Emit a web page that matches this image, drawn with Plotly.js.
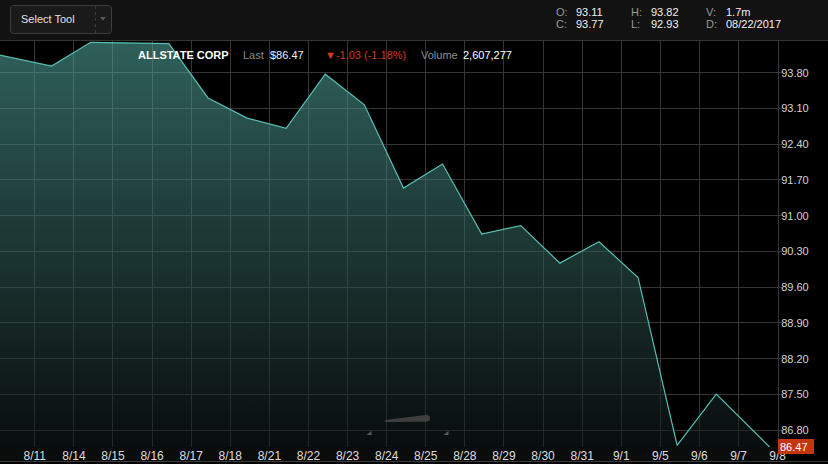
<!DOCTYPE html>
<html><head><meta charset="utf-8">
<script src="https://cdn.plot.ly/plotly-3.0.1.min.js"></script>
<style>html,body{margin:0;padding:0;background:#000;}#chart{width:828px;height:464px;}</style>
</head><body><div id="chart"></div>
<script>
// ---- data ----
const pointDates = ['8/9','8/10','8/11','8/14','8/15','8/16','8/17','8/18','8/21','8/22','8/23','8/24','8/25','8/28','8/29','8/30','8/31','9/1','9/5','9/6','9/7'];
const pointIndex = [-2,-1,0,1,2,3,4,5,6,7,8,9,10,11,12,13,14,15,16,17,18.365];
const closes = [94.25,94.09,93.93,94.395,94.38,94.37,93.305,92.91,92.71,93.77,93.17,91.54,92.01,90.64,90.805,90.07,90.49,89.79,86.50,87.505,86.47];
const tickDates = ['8/11','8/14','8/15','8/16','8/17','8/18','8/21','8/22','8/23','8/24','8/25','8/28','8/29','8/30','8/31','9/1','9/5','9/6','9/7','9/8'];
const tickIndex = [0,1,2,3,4,5,6,7,8,9,10,11,12,13,14,15,16,17,18,19];
const yTicks = [86.80,87.50,88.20,88.90,89.60,90.30,91.00,91.70,92.40,93.10,93.80];
const symbol = 'ALLSTATE CORP';
const lastPrice = 86.47;
const change = '-1.03';
const changePct = '-1.18%';
const volume = '2,607,277';
const ohlcLabels = ['O:','H:','V:','C:','L:','D:'];
const ohlcValues = ['93.11','93.82','1.7m','93.77','92.93','08/22/2017'];

// ---- layout helpers (pixel -> paper) ----
const PL = 0, PW = 778, PT = 41, PH = 406;
const px = x => (x - PL) / PW;
const py = y => (PT + PH - y) / PH;
const FONT = 'Liberation Sans, Arial, sans-serif';

function ann(text, x, y, color, size, bold) {
  return {text: bold ? '<b>' + text + '</b>' : text, xref:'paper', yref:'paper',
    x: px(x - 2), y: py(y), xanchor:'left', yanchor:'middle', showarrow:false,
    font:{family: FONT, size: size || 11, color: color}};
}

const annotations = [
  ann('Select Tool', 20.5, 19, '#e2e2e2', 11),
  ann(symbol, 138, 55, '#ffffff', 11, true),
  ann('Last', 243, 55, '#8c8c8c'),
  ann('$' + lastPrice.toFixed(2), 270, 55, '#e6efff'),
  ann('\u25BC' + change + ' (' + changePct + ')', 325, 55, '#d2391b'),
  ann('Volume', 421, 55, '#8c8c8c'),
  ann(volume, 463, 55, '#ffffff'),
];
const colX = [556, 630.5, 705.5];
const valX = [576, 651, 726];
ohlcLabels.forEach((l, i) => {
  const row = Math.floor(i / 3), col = i % 3;
  const yy = row === 0 ? 11.8 : 24;
  annotations.push(ann(l, colX[col], yy, '#9a9a9a'));
  annotations.push(ann(ohlcValues[i], valX[col], yy, '#f0f0f0'));
});
annotations.push({text: lastPrice.toFixed(2), xref:'paper', yref:'y', x:1, y:lastPrice,
  xanchor:'left', yanchor:'middle', showarrow:false, align:'left', width:32, height:11,
  bgcolor:'#c4340f', borderpad:2, borderwidth:0, yshift:0.5,
  font:{family: FONT, size:11, color:'#ffffff'}});

function pathOf(pts) {
  return 'M' + pts.map(p => px(p[0]) + ',' + py(p[1])).join(' L') + ' Z';
}
function roundRect(x0, y0, x1, y1, r) {
  const P = (x, y) => px(x) + ',' + py(y);
  return 'M' + P(x0 + r, y0) + ' L' + P(x1 - r, y0) + ' Q' + P(x1, y0) + ' ' + P(x1, y0 + r) +
    ' L' + P(x1, y1 - r) + ' Q' + P(x1, y1) + ' ' + P(x1 - r, y1) +
    ' L' + P(x0 + r, y1) + ' Q' + P(x0, y1) + ' ' + P(x0, y1 - r) +
    ' L' + P(x0, y0 + r) + ' Q' + P(x0, y0) + ' ' + P(x0 + r, y0) + ' Z';
}

const shapes = [
  {type:'rect', xref:'paper', yref:'paper', x0:px(0), x1:px(828), y0:py(0), y1:py(40.5), fillcolor:'#121212', line:{width:0}, layer:'above'},
  {type:'line', xref:'paper', yref:'paper', x0:px(0), x1:px(828), y0:py(40.5), y1:py(40.5), line:{color:'#353535', width:1}, layer:'above'},
  {type:'path', xref:'paper', yref:'paper', path: roundRect(10.5, 5.5, 111.5, 33.5, 3), fillcolor:'#1a1a1a', line:{color:'#3c3c3c', width:1}, layer:'above'},
  {type:'line', xref:'paper', yref:'paper', x0:px(95.5), x1:px(95.5), y0:py(6), y1:py(33), line:{color:'#3a3a3a', width:1, dash:'dot'}, layer:'above'},
  {type:'path', xref:'paper', yref:'paper', path: pathOf([[100,17],[106,17],[103,20.5]]), fillcolor:'#5a5a5a', line:{width:0}, layer:'above'},
  {type:'rect', xref:'paper', yref:'paper', x0:px(0), x1:px(778), y0:py(447), y1:py(461), fillcolor:'#0a0c0c', line:{width:0}, layer:'below'},
  {type:'line', xref:'paper', yref:'paper', x0:px(0), x1:px(828), y0:py(461.5), y1:py(461.5), line:{color:'#3a3a3a', width:1}, layer:'above'},
  {type:'path', xref:'paper', yref:'paper', path: pathOf([[385,420],[427,414.8],[430,416.5],[430,420.5],[427,421.7],[385,422]]), fillcolor:'#3e3e3e', line:{width:0}, layer:'above'},
  {type:'path', xref:'paper', yref:'paper', path: pathOf([[366.5,435],[371.5,435],[371.5,431]]), fillcolor:'#5a5a5a', line:{width:0}, layer:'above'},
  {type:'path', xref:'paper', yref:'paper', path: pathOf([[443.5,435],[448.5,435],[448.5,431]]), fillcolor:'#5a5a5a', line:{width:0}, layer:'above'},
];

const trace = {
  x: pointIndex, y: closes, text: pointDates, type:'scatter', mode:'lines',
  line:{color:'#57bfb4', width:1.2},
  fill:'tozeroy',
  fillgradient:{type:'vertical', start:86.47, stop:94.42,
    colorscale:[[0,'rgba(16,24,24,0.55)'],[1,'rgba(86,174,164,0.55)']]},
  hoverinfo:'skip'
};

const layout = {
  width:828, height:464,
  margin:{l:0, r:50, t:41, b:17, pad:0},
  paper_bgcolor:'#000', plot_bgcolor:'#000',
  showlegend:false,
  xaxis:{range:[-1.32, 18.58], tickmode:'array', tickvals: tickIndex.map(i => i - 0.43), ticktext: tickDates,
    showgrid:true, gridcolor:'#363636', gridwidth:1, zeroline:false, showline:false, ticks:'',
    tickfont:{family: FONT, size:12, color:'#dcdcdc'}, fixedrange:true},
  yaxis:{side:'right', range:[86.47, 94.42], tickmode:'array', tickvals: yTicks, ticktext: yTicks.map(v => v.toFixed(2)),
    showgrid:true, gridcolor:'#363636', gridwidth:1, zeroline:false, showline:true, linecolor:'#363636', linewidth:1,
    ticks:'outside', ticklen:3, tickcolor:'#363636', ticklabelstandoff:-3,
    tickfont:{family: FONT, size:11, color:'#d4d4d4'}, fixedrange:true},
  annotations: annotations,
  shapes: shapes
};

Plotly.newPlot('chart', [trace], layout, {displayModeBar:false, staticPlot:true});
</script>
</body></html>
